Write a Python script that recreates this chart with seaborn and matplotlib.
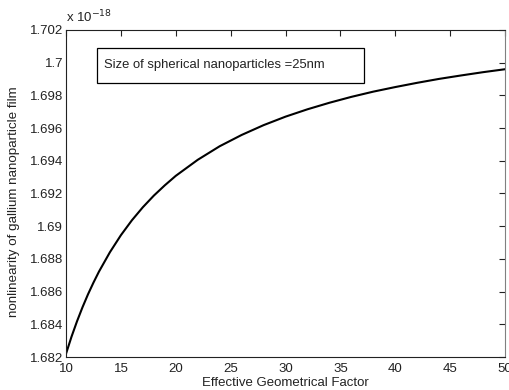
import numpy as np
import pandas as pd
import matplotlib
matplotlib.use('Agg')
import matplotlib.pyplot as plt
import seaborn as sns
from matplotlib.patches import Rectangle
from matplotlib.ticker import FuncFormatter, MultipleLocator

# values (y in units of 1e-18)
geom_factor = [10, 10.5, 11, 11.5, 12, 12.5, 13, 14, 15, 16, 17, 18, 19, 20, 22, 24,
               26, 28, 30, 32, 34, 36, 38, 40, 42, 44, 46, 48, 50]
nonlinearity = [1.68220, 1.68324, 1.68418, 1.68504, 1.68583, 1.68655, 1.68722,
                1.68841, 1.68945, 1.69036, 1.69116, 1.69187, 1.69250, 1.69308,
                1.69406, 1.69489, 1.69558, 1.69618, 1.69670, 1.69715, 1.69755,
                1.69791, 1.69823, 1.69851, 1.69877, 1.69901, 1.69922, 1.69942,
                1.69960]

df = pd.DataFrame({'factor': geom_factor, 'nl': nonlinearity})

sns.set_style('white')
plt.rcParams['font.family'] = ['Liberation Sans', 'DejaVu Sans']

fig = plt.figure(figsize=(5.09, 3.90), dpi=100)
ax = fig.add_axes([0.1297, 0.0846, 0.8625, 0.8385])
sns.lineplot(data=df, x='factor', y='nl', color='black', linewidth=1.5, ax=ax)

ax.set_xlim(10, 50)
ax.set_ylim(1.682, 1.702)
ax.xaxis.set_major_locator(MultipleLocator(5))
ax.yaxis.set_major_locator(MultipleLocator(0.002))
ax.yaxis.set_major_formatter(FuncFormatter(lambda v, p: '%g' % round(v, 3)))
ax.tick_params(direction='in', length=4, width=0.8, top=True, right=True,
               labelsize=9.5, pad=2, colors='#222222')
ax.tick_params(axis='x', pad=4)
for s in ax.spines.values():
    s.set_color('#222222')
    s.set_linewidth(0.8)
ax.spines['right'].set_color('#808080')

ax.set_xlabel('Effective Geometrical Factor', fontsize=9.5, labelpad=2, color='#222222')
ax.set_ylabel('nonlinearity of gallium nanoparticle film', fontsize=9.6, labelpad=5,
              color='#222222')
ax.yaxis.set_label_coords(-0.105, 0.474)
ax.text(0.0, 1.015, r'x 10$^{-18}$', transform=ax.transAxes, fontsize=9.5,
        ha='left', va='bottom', color='#222222')
ax.add_patch(Rectangle((0.0706, 0.838), 0.608, 0.107, transform=ax.transAxes,
                       facecolor='white', edgecolor='black', linewidth=0.9))
ax.text(0.0866, 0.893, 'Size of spherical nanoparticles =25nm', transform=ax.transAxes,
        fontsize=9.4, ha='left', va='center', color='#222222')

fig.savefig('out.png', dpi=100)
